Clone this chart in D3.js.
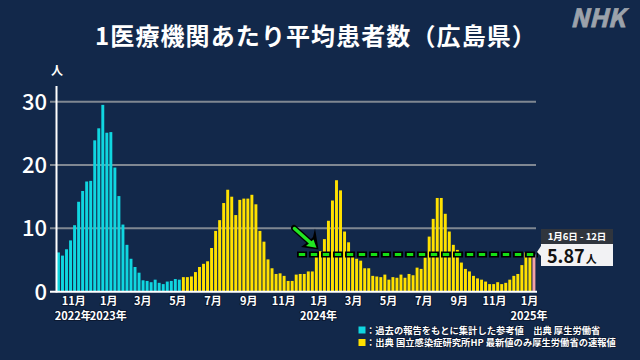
<!DOCTYPE html>
<html><head><meta charset="utf-8">
<script src="https://cdn.jsdelivr.net/npm/d3@7"></script>
<style>
html,body{margin:0;padding:0;background:#12284a;}
svg{display:block;}
text{font-family:"Noto Sans CJK JP","Noto Sans",sans-serif;}
</style></head><body>
<svg id="chart" width="640" height="360"></svg>
<script>
// ---- data ----
const titleText = "1医療機関あたり平均患者数（広島県）";
const firstWeek = "2022-10-03";   // week start (Mon) of first bar
const lastWeek  = "2025-01-06";   // week start (Mon) of latest bar
// 過去の報告をもとに集計した参考値 (cyan)
const referenceValues = [6.2,5.7,6.7,8.1,10.5,14.2,15.9,17.4,17.5,23.9,25.8,29.5,25.1,25.2,19.6,15.1,10.6,7.4,5.2,3.9,3.0,1.8,1.7,1.5,1.9,1.4,1.2,1.6,1.7,2.0,1.9];
// 国立感染症研究所 定点報告 (yellow), last = latest prompt value
const surveillanceValues = [2.3,2.3,2.4,3.1,3.9,4.4,4.8,6.9,9.6,11.3,14.0,16.1,15.0,12.1,14.5,14.7,14.7,15.3,13.8,9.6,7.9,5.1,3.7,2.8,2.9,2.5,1.7,1.7,2.7,2.8,2.8,3.2,3.2,6.1,6.4,8.3,11.2,14.4,17.6,16.0,9.5,7.8,5.8,5.2,4.9,3.7,3.7,2.5,2.4,2.3,2.7,1.9,2.3,2.2,2.7,2.2,2.8,2.6,3.8,3.6,5.4,8.7,11.5,14.8,14.8,12.3,9.5,7.4,6.6,4.6,3.6,3.2,2.5,2.1,1.9,1.6,1.2,1.2,1.5,1.2,1.4,1.9,2.5,2.8,4.2,6.2,5.9,5.87];
const latestLabel = "1月6日 - 12日";
const latestValue = 5.87;
const yTicks = [0,10,20,30];
const monthTicks = ["2022-11-01","2023-01-01","2023-03-01","2023-05-01","2023-07-01","2023-09-01","2023-11-01","2024-01-01","2024-03-01","2024-05-01","2024-07-01","2024-09-01","2024-11-01","2025-01-01"];
const yearTickDates = ["2022-11-01","2023-01-01","2024-01-01","2025-01-01"];
const yearTickLabels = ["2022年","2023年","2024年","2025年"];
const legendLabels = ["：過去の報告をもとに集計した参考値　出典 厚生労働省","：出典 国立感染症研究所HP 最新値のみ厚生労働省の速報値"];

// ---- colours ----
const C_CYAN = "#10d6e0", C_YELLOW = "#ffe100", C_PINK = "#f3a2a6";

const parse = d3.timeParse("%Y-%m-%d");
const weeks = d3.timeMonday.range(parse(firstWeek), d3.timeDay.offset(parse(lastWeek), 1));
const allValues = referenceValues.concat(surveillanceValues);
const data = weeks.map((w, i) => ({
  week: w, value: allValues[i],
  color: i < referenceValues.length ? C_CYAN : (i === allValues.length - 1 ? C_PINK : C_YELLOW)
}));

const svg = d3.select("#chart");
svg.append("rect").attr("width", 640).attr("height", 360).attr("fill", "#12284a");

const x = d3.scaleTime()
  .domain([parse(firstWeek), d3.timeDay.offset(parse(lastWeek), 7)])
  .range([56.5, 536]);
const y = d3.scaleLinear().domain([0, 30]).range([291.7, 101.7]);

// title
svg.append("text").attr("x", 316).attr("y", 45).attr("text-anchor", "middle")
  .attr("font-size", 24).attr("font-weight", 700).attr("letter-spacing", 1.1)
  .attr("fill", "#ffffff").text(titleText);
// NHK logo
svg.append("text").attr("x", 625).attr("y", 27).attr("text-anchor", "end")
  .attr("font-family", "Liberation Sans, Arial, sans-serif")
  .attr("font-size", 25).attr("font-weight", 700).attr("font-style", "italic")
  .attr("fill", "#9ca2ab").attr("stroke", "#9ca2ab").attr("stroke-width", 0.8).text("NHK");

// gridlines
svg.append("g").selectAll("line").data(yTicks.filter(t => t > 0)).join("line")
  .attr("x1", 50).attr("x2", 536).attr("y1", d => y(d)).attr("y2", d => y(d))
  .attr("stroke", "#7f8792").attr("stroke-width", 2);

// bars
svg.append("g").selectAll("rect").data(data).join("rect")
  .attr("x", d => x(d.week) + 0.5)
  .attr("width", d => x(d3.timeDay.offset(d.week, 7)) - x(d.week) - 1.1)
  .attr("y", d => y(d.value))
  .attr("height", d => y(0) - y(d.value))
  .attr("fill", d => d.color);

// axes lines
svg.append("line").attr("x1", 56.5).attr("x2", 56.5).attr("y1", 86).attr("y2", 292.5)
  .attr("stroke", "#ffffff").attr("stroke-width", 2);
svg.append("line").attr("x1", 50).attr("x2", 537).attr("y1", y(0)).attr("y2", y(0))
  .attr("stroke", "#ffffff").attr("stroke-width", 2);

// y labels
svg.append("g").selectAll("text").data(yTicks).join("text")
  .attr("x", 47).attr("y", d => y(d)).attr("dy", "0.36em").attr("text-anchor", "end")
  .attr("font-size", 22).attr("font-weight", 500).attr("fill", "#ffffff")
  .text(d => d);
svg.append("text").attr("x", 57).attr("y", 75).attr("text-anchor", "middle")
  .attr("font-size", 12).attr("font-weight", 700).attr("fill", "#ffffff").text("人");

// x axis month labels
const xAxis = d3.axisBottom(x).tickValues(monthTicks.map(parse))
  .tickSize(0).tickPadding(5).tickFormat(d => (d.getMonth() + 1) + "月");
const gx = svg.append("g").attr("transform", "translate(0,292)").call(xAxis);
gx.select(".domain").remove();
gx.selectAll("text").attr("font-size", 11).attr("font-weight", 700)
  .attr("font-family", "Noto Sans CJK JP, sans-serif")
  .attr("fill", "#ffffff").attr("stroke", "#0b1830").attr("stroke-width", 2)
  .attr("paint-order", "stroke");

// year labels
svg.append("g").selectAll("text").data(yearTickDates).join("text")
  .attr("x", d => x(parse(d))).attr("y", 320).attr("text-anchor", "middle")
  .attr("font-size", 11).attr("font-weight", 700).attr("fill", "#ffffff")
  .attr("stroke", "#0b1830").attr("stroke-width", 2).attr("paint-order", "stroke")
  .text((d, i) => yearTickLabels[i]);

// legend
const legColors = [C_CYAN, C_YELLOW];
const leg = svg.append("g");
leg.selectAll("rect").data(legendLabels).join("rect")
  .attr("x", 358.5).attr("y", (d, i) => 326.5 + i * 12.5).attr("width", 7).attr("height", 7)
  .attr("fill", (d, i) => legColors[i]);
leg.selectAll("text").data(legendLabels).join("text")
  .attr("x", 366).attr("y", (d, i) => 333.8 + i * 12.5)
  .attr("font-size", 9.3).attr("font-weight", 700).attr("fill", "#ffffff")
  .attr("stroke", "#0b1830").attr("stroke-width", 1.5).attr("paint-order", "stroke")
  .text(d => d);

// dashed reference line at latest value
const yl = y(latestValue);
const dashX1 = 297, dashX2 = x(d3.timeDay.offset(parse(lastWeek), 7)) + 2;
svg.append("line").attr("x1", dashX1).attr("x2", dashX2).attr("y1", yl).attr("y2", yl)
  .attr("stroke", "#000000").attr("stroke-width", 6).attr("stroke-dasharray", "10,2");
svg.append("line").attr("x1", dashX1 + 1.8).attr("x2", dashX2).attr("y1", yl).attr("y2", yl)
  .attr("stroke", "#14e014").attr("stroke-width", 3).attr("stroke-dasharray", "6.4,5.6");

// green arrow
const ag = svg.append("g");
ag.append("line").attr("x1", 294).attr("y1", 228).attr("x2", 312).attr("y2", 244)
  .attr("stroke", "#000000").attr("stroke-width", 6).attr("stroke-linecap", "round");
ag.append("polygon").attr("points", "318.5,249.5 301,247 309,241 313,237 315,228.5")
  .attr("fill", "#000000");
ag.append("line").attr("x1", 294.5).attr("y1", 228.5).attr("x2", 312).attr("y2", 244)
  .attr("stroke", "#22e622").attr("stroke-width", 3.5).attr("stroke-linecap", "round");
ag.append("polygon").attr("points", "316.5,247.8 306,246 313.5,239.5")
  .attr("fill", "#22e622");

// latest value callout
const cb = svg.append("g");
cb.append("rect").attr("x", 541).attr("y", 229).attr("width", 72).attr("height", 15)
  .attr("fill", "#30353d");
cb.append("text").attr("x", 577).attr("y", 240).attr("text-anchor", "middle")
  .attr("font-size", 9.5).attr("font-weight", 700).attr("fill", "#ffffff").text(latestLabel);
cb.append("polygon").attr("points", "537,252 541,246 541,256").attr("fill", "#f2f2f2");
cb.append("rect").attr("x", 541).attr("y", 244).attr("width", 72).attr("height", 22)
  .attr("fill", "#f2f2f4");
const vt = cb.append("text").attr("x", 547).attr("y", 263).attr("fill", "#111111");
vt.append("tspan").attr("font-size", 18).attr("font-weight", 700).text(latestValue.toFixed(2));
vt.append("tspan").attr("font-size", 11).attr("font-weight", 700).attr("dx", 1).text("人");
</script>
</body></html>
